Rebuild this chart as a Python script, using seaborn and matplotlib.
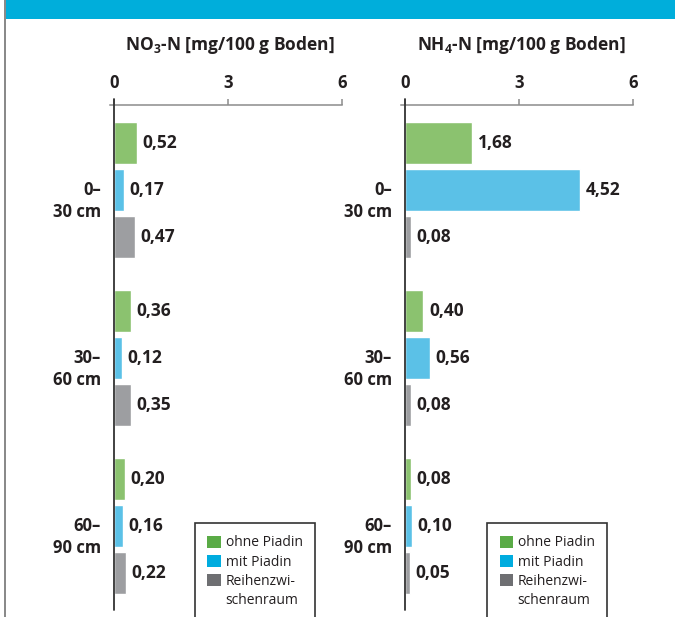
import matplotlib
matplotlib.use("Agg")
import matplotlib.pyplot as plt
import seaborn as sns
import pandas as pd
from matplotlib.patches import Patch, Rectangle
from matplotlib.transforms import offset_copy

# ---------------- data ----------------
depths = ["0–\n30 cm", "30–\n60 cm", "60–\n90 cm"]
treatments = ["ohne Piadin", "mit Piadin", "Reihenzwischenraum"]
legend_labels = ["ohne Piadin", "mit Piadin", "Reihenzwi-", "schenraum"]
no3_ohne = [0.52, 0.36, 0.20]
no3_mit = [0.17, 0.12, 0.16]
no3_reihe = [0.47, 0.35, 0.22]
nh4_ohne = [1.68, 0.40, 0.08]
nh4_mit = [4.52, 0.56, 0.10]
nh4_reihe = [0.08, 0.08, 0.05]
x_ticks = [0, 3, 6]
titles = [r"NO$_\mathbf{3}$-N [mg/100 g Boden]", r"NH$_\mathbf{4}$-N [mg/100 g Boden]"]

# ---------------- style ----------------
bar_colors = ["#8bc26f", "#5bc1e7", "#9d9ea1"]
legend_colors = ["#5aab46", "#00acdf", "#6e6f72"]
text_color = "#231f20"
banner_color = "#00aedb"

sns.set_theme(style="white")
plt.rcParams["font.family"] = ["Open Sans", "DejaVu Sans"]
plt.rcParams["mathtext.fontset"] = "custom"
plt.rcParams["mathtext.rm"] = "Open Sans"
plt.rcParams["mathtext.bf"] = "Open Sans:bold"

W, H = 675, 617
fig = plt.figure(figsize=(W / 100, H / 100), dpi=100)
fig.patch.set_facecolor("white")

# banner and left border
fig.patches.append(Rectangle((6 / W, 1 - 19 / H), 1, 19 / H, transform=fig.transFigure,
                             facecolor=banner_color, edgecolor="none", zorder=0))
fig.patches.append(Rectangle((4 / W, 0), 2 / W, 1, transform=fig.transFigure,
                             facecolor="#8a8a8a", edgecolor="none", zorder=0))


def make_df(a, b, c):
    rows = []
    for vals, t in zip([a, b, c], treatments):
        for d, v in zip(depths, vals):
            rows.append({"depth": d, "treatment": t, "value": v})
    return pd.DataFrame(rows)


panels = [
    (make_df(no3_ohne, no3_mit, no3_reihe), 110, 195),
    (make_df(nh4_ohne, nh4_mit, nh4_reihe), 401, 487),
]

ax_top, ax_bottom = 105, 610
for (df, left_px, leg_x), title in zip(panels, titles):
    ax = fig.add_axes([left_px / W, (H - ax_bottom) / H, 232 / W, (ax_bottom - ax_top) / H])
    sns.barplot(data=df, y="depth", x="value", hue="treatment", hue_order=treatments,
                order=depths, palette=bar_colors, orient="h", width=0.84, gap=0.1,
                saturation=1, legend=False, ax=ax)
    ax.set_xlim(-0.1, 6)
    ax.set_ylim(2.5, -0.506)
    ax.set_facecolor("none")
    # the original artwork draws every bar a few pixels longer than its value
    for cont in ax.containers:
        for p in cont.patches:
            p.set_width(p.get_width() + 0.09)
    for s in ["left", "right", "bottom"]:
        ax.spines[s].set_visible(False)
    ax.spines["top"].set_color("#8c8c8c")
    ax.spines["top"].set_linewidth(1.1)
    ax.xaxis.tick_top()
    ax.set_xticks(x_ticks, labels=[str(t) for t in x_ticks])
    ax.tick_params(axis="x", top=True, bottom=False, length=4, width=1.1,
                   color="#8c8c8c", pad=5, labelsize=12, labelcolor=text_color)
    for lbl in ax.get_xticklabels():
        lbl.set_fontweight("bold")
    ax.set_yticks([])
    ax.set_xlabel("")
    ax.set_ylabel("")
    ax.axvline(0, ymin=0, ymax=1.012, color="#333333", lw=1.3, clip_on=False, zorder=5)

    for cont in ax.containers:
        ax.bar_label(cont, labels=[f"{v:.2f}".replace(".", ",") for v in cont.datavalues],
                     padding=4, fontsize=12.5, fontweight="bold", color=text_color)

    tr = offset_copy(ax.get_yaxis_transform(), fig=fig, x=-9, y=-11, units="dots")
    for i, d in enumerate(depths):
        ax.text(0, i, d, transform=tr, ha="right", va="center", multialignment="right",
                fontsize=12, fontweight="bold", color=text_color, linespacing=1.25)

    pos = ax.get_position()
    fig.text((pos.x0 + pos.x1) / 2 + 4 / W, 1 - 45 / H, title, ha="center", va="center",
             fontsize=12.5, fontweight="bold", color=text_color)

    handles = [Patch(facecolor=c, edgecolor="none") for c in legend_colors]
    handles.append(Patch(facecolor="none", edgecolor="none"))
    leg = ax.legend(handles, legend_labels, loc="upper left",
                    bbox_to_anchor=(leg_x / W, 1 - 523 / H), bbox_transform=fig.transFigure,
                    borderaxespad=0, frameon=True, fancybox=False, framealpha=1,
                    edgecolor="#333333", fontsize=10, handlelength=0.95, handleheight=0.95,
                    handletextpad=0.35, labelspacing=0.3, borderpad=0.9)
    leg.get_frame().set_linewidth(1.2)
    for t in leg.get_texts():
        t.set_color(text_color)

fig.savefig("out.png", dpi=100)
